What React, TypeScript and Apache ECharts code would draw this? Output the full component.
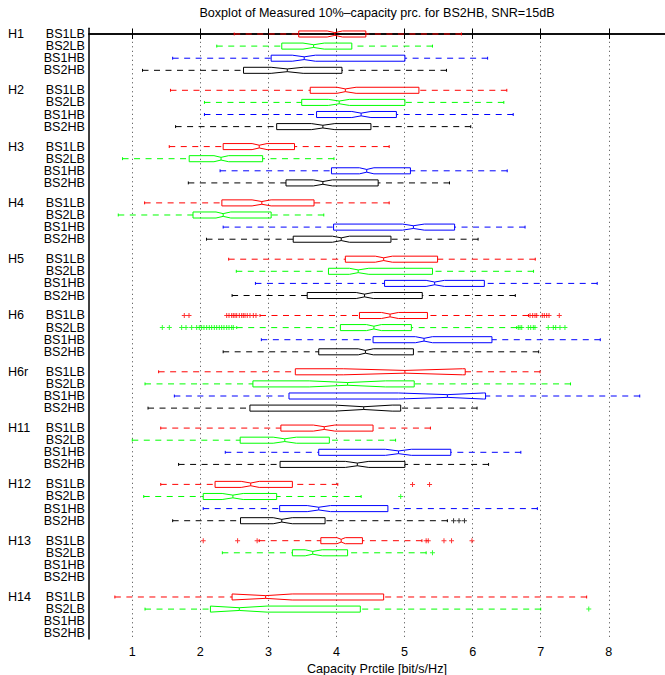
import React, { useEffect, useRef } from 'react';
import * as echarts from 'echarts';

// ---------- data ----------
const groups = ['H1', 'H2', 'H3', 'H4', 'H5', 'H6', 'H6r', 'H11', 'H12', 'H13', 'H14'];
const stations = ['BS1LB', 'BS2LB', 'BS1HB', 'BS2HB'];
const stationColors = ['#ff0000', '#00ff00', '#0000ff', '#000000'];
const xTicks = [1, 2, 3, 4, 5, 6, 7, 8];

// per group: [lowWhisker, q1, notchLow, median, notchHigh, q3, highWhisker]
const bs1lb = [
  [2.497, 3.445, 3.863, 3.976, 4.088, 4.431, 5.835],
  [1.561, 3.614, 4.007, 4.13, 4.288, 5.211, 6.502],
  [1.543, 2.335, 2.76, 2.865, 2.98, 3.383, 4.774],
  [1.181, 2.316, 2.76, 2.903, 3.04, 3.67, 4.774],
  [2.416, 4.13, 4.57, 4.693, 4.82, 5.485, 6.92],
  [2.876, 4.337, 4.66, 4.787, 4.91, 5.336, 6.82],
  [1.387, 3.395, 4.1, 5.005, 5.85, 5.891, 6.99],
  [1.418, 3.183, 3.66, 3.82, 3.976, 4.537, 5.38],
  [1.418, 2.216, 2.6, 2.74, 2.865, 3.352, 4.019],
  [2.865, 3.77, 4.007, 4.069, 4.13, 4.381, 5.255],
  [0.744, 2.466, 2.466, 2.959, 3.35, 4.693, 7.675],
];
const bs2lb = [
  [2.241, 3.196, 3.508, 3.664, 3.82, 4.225, 5.41],
  [2.06, 3.489, 3.88, 4.04, 4.19, 5.005, 6.458],
  [0.857, 1.836, 2.2, 2.304, 2.416, 2.915, 3.963],
  [0.794, 1.892, 2.23, 2.335, 2.447, 3.04, 3.813],
  [2.528, 3.882, 4.19, 4.319, 4.475, 5.41, 6.895],
  [2.534, 4.057, 4.44, 4.55, 4.66, 5.1, 6.647],
  [1.187, 2.772, 3.6, 4.163, 4.72, 5.142, 7.438],
  [1.0, 2.585, 3.07, 3.24, 3.41, 3.895, 4.868],
  [1.168, 2.042, 2.32, 2.478, 2.63, 3.121, 4.362],
  [2.323, 3.352, 3.54, 3.651, 3.79, 4.163, 5.317],
  [1.187, 2.148, 2.148, 2.572, 2.98, 4.35, 7.0],
];
const bs1hb = [
  [1.593, 3.04, 3.35, 3.526, 3.69, 5.005, 6.22],
  [2.06, 3.707, 4.225, 4.362, 4.506, 4.88, 6.596],
  [2.29, 3.926, 4.337, 4.444, 4.55, 5.086, 6.508],
  [2.335, 3.957, 4.97, 5.13, 5.29, 5.735, 6.77],
  [2.809, 4.706, 5.317, 5.442, 5.585, 6.172, 7.83],
  [2.896, 4.537, 5.16, 5.286, 5.41, 6.284, 7.875],
  [1.618, 3.302, 4.91, 5.629, 6.16, 6.19, 8.455],
  [2.366, 3.739, 4.72, 4.911, 5.1, 5.679, 6.708],
  [2.042, 3.165, 3.57, 3.739, 3.913, 4.755, 6.951],
  null,
  null,
];
const bs2hb = [
  [1.15, 2.634, 3.04, 3.277, 3.51, 4.08, 5.616],
  [1.636, 3.121, 3.63, 3.8, 3.976, 4.506, 5.972],
  [1.823, 3.258, 3.66, 3.8, 3.94, 4.612, 5.66],
  [2.09, 3.364, 3.94, 4.07, 4.19, 4.8, 6.08],
  [2.466, 3.57, 4.29, 4.412, 4.54, 5.26, 6.627],
  [2.335, 3.739, 4.32, 4.425, 4.54, 5.13, 6.97],
  [1.231, 2.728, 3.976, 4.4, 4.818, 4.943, 6.065],
  [1.68, 3.171, 4.13, 4.306, 4.475, 5.005, 6.234],
  [1.593, 2.59, 3.07, 3.196, 3.35, 3.832, 5.629],
  null,
  null,
];

// outliers
const outH6_BS1LB = [1.764, 1.833, 2.387, 2.421, 2.46, 2.484, 2.509, 2.534, 2.572, 2.607, 2.631, 2.656, 2.689, 2.729, 2.778, 2.817, 6.843, 6.882, 6.916, 6.941, 7.023, 7.053, 7.088, 7.122, 7.273];
const outH6_BS2LB = [1.441, 1.544, 1.725, 1.789, 1.872, 1.946, 1.984, 2.019, 2.053, 2.093, 2.131, 2.166, 2.205, 2.24, 2.278, 2.313, 2.347, 2.387, 2.421, 2.46, 2.484, 6.671, 6.696, 6.721, 6.818, 6.853, 6.891, 6.916, 7.111, 7.185, 7.22, 7.283, 7.356];
const outH12_BS1LB = [5.117, 5.367];
const outH12_BS2LB = [4.943];
const outH12_BS2HB = [5.72, 5.8, 5.88];
const outH13_BS1LB = [2.042, 2.547, 2.834, 5.317, 5.348, 5.579, 5.69, 5.99];
const outH13_BS2LB = [5.41];
const outH14_BS2LB = [7.706];

const outlierSets: [string, string, number[]][] = [
  ['H6', 'BS1LB', outH6_BS1LB],
  ['H6', 'BS2LB', outH6_BS2LB],
  ['H12', 'BS1LB', outH12_BS1LB],
  ['H12', 'BS2LB', outH12_BS2LB],
  ['H12', 'BS2HB', outH12_BS2HB],
  ['H13', 'BS1LB', outH13_BS1LB],
  ['H13', 'BS2LB', outH13_BS2LB],
  ['H14', 'BS2LB', outH14_BS2LB],
];

const titleText = 'Boxplot of Measured 10%\u2013capacity prc. for BS2HB, SNR=15dB';
const xName = 'Capacity Prctile [bit/s/Hz]';

// ---------- layout helpers ----------
const GROUP_STEP = 4.65;
const rowPos = (g: number, r: number) => g * GROUP_STEP + r;
const Y_MIN = -0.47;
const Y_MAX = rowPos(groups.length - 1, 3) + 0.47;
const X_MIN = 0.364;
const X_MAX = 8.826;
const FONT = 'Liberation Sans, Arial, Helvetica, sans-serif';
const FS = 12.6;

const key = (v: number) => String(Math.round(v * 1000));

export default function App() {
  const ref = useRef<HTMLDivElement>(null);

  useEffect(() => {
    if (!ref.current) return;
    const chart = echarts.init(ref.current, undefined, { renderer: 'svg' });

    const stationLabelMap: Record<string, string> = {};
    const groupLabelMap: Record<string, string> = {};
    // blank first/last entries so ECharts' min/max-label overlap logic never hides a real label
    const stationValues: number[] = [Y_MIN];
    const groupValues: number[] = [Y_MIN];
    groups.forEach((g, gi) => {
      stations.forEach((s, si) => {
        const p = rowPos(gi, si);
        stationValues.push(p);
        stationLabelMap[key(p)] = s;
      });
      const p0 = rowPos(gi, 0);
      groupValues.push(p0);
      groupLabelMap[key(p0)] = g;
    });
    stationValues.push(Y_MAX);
    groupValues.push(Y_MAX);

    const tables = [bs1lb, bs2lb, bs1hb, bs2hb];

    const renderBox = (params: any, api: any) => {
      const p = api.value(0);
      const lw = api.value(1), q1 = api.value(2), nlo0 = api.value(3), med = api.value(4),
        nhi0 = api.value(5), q3 = api.value(6), hw = api.value(7);
      const nlo = Math.max(nlo0, q1);
      const nhi = Math.min(nhi0, q3);
      const y = api.coord([q1, p])[1];
      const rowPx = api.size([0, 1])[1];
      const bh = rowPx * 0.25;
      const nh = bh * 0.45;
      const ch = rowPx * 0.12;
      const X = (v: number) => api.coord([v, p])[0];
      const color = stationColors[params.seriesIndex];
      const st = { stroke: color, lineWidth: 1, fill: 'none' };
      const dash = { stroke: color, lineWidth: 1, lineDash: [6, 5.5] };
      return {
        type: 'group',
        children: [
          { type: 'line', shape: { x1: X(lw), y1: y, x2: X(q1), y2: y }, style: dash },
          { type: 'line', shape: { x1: X(hw), y1: y, x2: X(q3), y2: y }, style: dash },
          { type: 'line', shape: { x1: X(lw), y1: y - ch, x2: X(lw), y2: y + ch }, style: st },
          { type: 'line', shape: { x1: X(hw), y1: y - ch, x2: X(hw), y2: y + ch }, style: st },
          {
            type: 'polygon',
            shape: {
              points: [
                [X(q1), y - bh], [X(nlo), y - bh], [X(med), y - nh], [X(nhi), y - bh],
                [X(q3), y - bh], [X(q3), y + bh], [X(nhi), y + bh], [X(med), y + nh],
                [X(nlo), y + bh], [X(q1), y + bh],
              ],
            },
            style: st,
          },
          { type: 'line', shape: { x1: X(med), y1: y - nh, x2: X(med), y2: y + nh }, style: st },
        ],
      };
    };

    const boxSeries = stations.map((s, si) => ({
      type: 'custom',
      name: s,
      xAxisIndex: 0,
      yAxisIndex: 0,
      renderItem: renderBox,
      clip: false,
      encode: { x: [1, 2, 3, 4, 5, 6, 7], y: 0 },
      data: tables[si]
        .map((row, gi) => (row ? [rowPos(gi, si), ...row] : null))
        .filter((d) => d !== null),
      z: 3,
    }));

    const plusPath = 'path://M2,0H3V2H5V3H3V5H2V3H0V2H2Z';
    const outlierSeries = stations.map((s, si) => {
      const pts: number[][] = [];
      outlierSets.forEach(([g, st, vals]) => {
        if (st !== s) return;
        const gi = groups.indexOf(g);
        vals.forEach((v) => pts.push([v, rowPos(gi, si)]));
      });
      return {
        type: 'scatter',
        name: s + ' outliers',
        xAxisIndex: 0,
        yAxisIndex: 0,
        symbol: plusPath,
        symbolSize: 5,
        itemStyle: { color: stationColors[si] },
        data: pts,
        z: 4,
      };
    });

    const labelBase = {
      show: true,
      color: '#000',
      fontSize: FS,
      fontFamily: FONT,
      lineHeight: 11,
      showMinLabel: false,
      showMaxLabel: false,
      hideOverlap: false,
    };

    const option: any = {
      animation: false,
      backgroundColor: '#ffffff',
      grid: { left: 89, right: 0, top: 28.3, bottom: 36, containLabel: false, outerBoundsMode: 'none' },
      xAxis: [
        {
          type: 'value',
          position: 'bottom',
          min: X_MIN,
          max: X_MAX,
          name: xName,
          nameLocation: 'middle',
          nameGap: 19,
          nameTextStyle: { color: '#000', fontSize: FS, fontFamily: FONT },
          axisLine: { show: true, lineStyle: { color: '#000', width: 1.5 } },
          axisTick: { show: true, inside: true, length: 5, customValues: xTicks, lineStyle: { color: '#000' } },
          axisLabel: {
            show: true,
            customValues: xTicks,
            margin: 6,
            color: '#000',
            fontSize: FS,
            fontFamily: FONT,
          },
          splitLine: { show: true, lineStyle: { color: '#444', type: [1, 3.5], width: 1 } },
        },
        {
          type: 'value',
          position: 'top',
          min: X_MIN,
          max: X_MAX,
          name: titleText,
          nameLocation: 'middle',
          nameGap: 9,
          nameTextStyle: { color: '#000', fontSize: FS, fontFamily: FONT },
          axisLine: { show: true, lineStyle: { color: '#000', width: 1.5 } },
          axisTick: { show: true, inside: true, length: 5, customValues: xTicks, lineStyle: { color: '#000' } },
          axisLabel: { show: false },
          splitLine: { show: false },
        },
      ],
      yAxis: [
        {
          type: 'value',
          position: 'left',
          inverse: true,
          min: Y_MIN,
          max: Y_MAX,
          axisLine: { show: true, lineStyle: { color: '#000', width: 1.5 } },
          axisTick: { show: false, customValues: stationValues },
          splitLine: { show: false },
          axisLabel: {
            ...labelBase,
            customValues: stationValues,
            margin: 4,
            formatter: (v: number) => stationLabelMap[key(v)] || '',
          },
        },
        {
          type: 'value',
          position: 'left',
          inverse: true,
          min: Y_MIN,
          max: Y_MAX,
          axisLine: { show: false },
          axisTick: { show: false, customValues: groupValues },
          splitLine: { show: false },
          axisLabel: {
            ...labelBase,
            customValues: groupValues,
            margin: 81,
            align: 'left',
            formatter: (v: number) => groupLabelMap[key(v)] || '',
          },
        },
      ],
      series: [...boxSeries, ...outlierSeries],
    };

    chart.setOption(option);
    return () => chart.dispose();
  }, []);

  return (
    <div
      ref={ref}
      style={{ position: 'fixed', left: 0, top: 0, width: 665, height: 675, background: '#fff' }}
    />
  );
}
